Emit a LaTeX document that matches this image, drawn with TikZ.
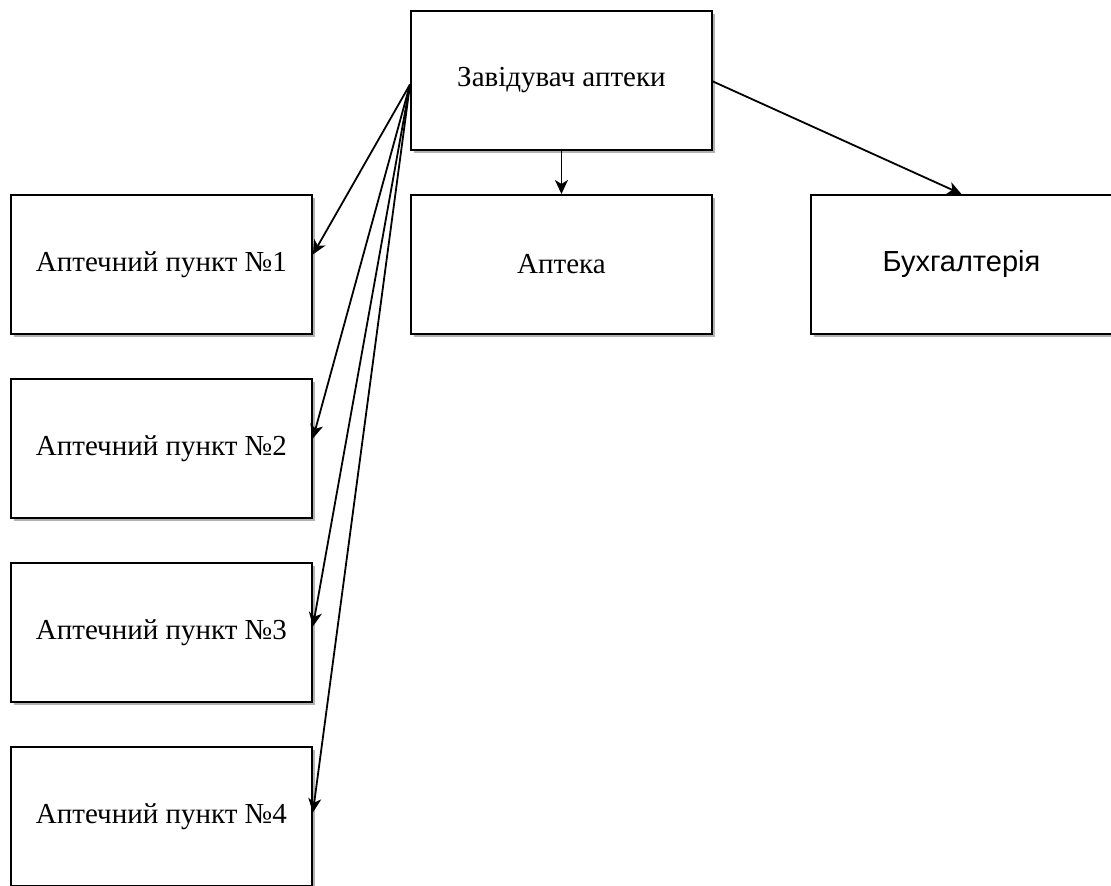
\documentclass[tikz,border=0pt]{standalone}
\usepackage{fontspec}
\setmainfont{Liberation Serif}
\newfontfamily\arialfont{Liberation Sans}
\usetikzlibrary{arrows.meta,shadows}
\begin{document}
\begin{tikzpicture}[x=1pt,y=-1pt,
  box/.style={draw=black, line width=1.9pt, fill=white, rectangle, inner sep=0pt,
    minimum width=301pt, minimum height=139pt, anchor=north west,
    general shadow={fill=black!30, shadow xshift=3pt, shadow yshift=-3pt},
    font=\fontsize{29}{34}\selectfont},
  conn/.style={line width=1.8pt, -{Stealth[length=14pt,width=13pt,inset=4pt]}}
]
\useasboundingbox (0,0) rectangle (1111,886);
\node[box] (top) at (410,10) {Завідувач аптеки};
\node[box] (apt) at (410,194) {Аптека};
\node[box, font=\arialfont\fontsize{29}{34}\selectfont] (buh) at (810,194) {Бухгалтерія};
\node[box] (p1) at (10,194) {Аптечний пункт №1};
\node[box] (p2) at (10,378) {Аптечний пункт №2};
\node[box] (p3) at (10,562) {Аптечний пункт №3};
\node[box] (p4) at (10,746) {Аптечний пункт №4};
\coordinate (src) at ([yshift=-4pt]top.west);
\draw[conn] (top.south) -- (apt.north);
\draw[conn] ([yshift=-1pt]top.east) -- (buh.north);
\draw[conn] (src) -- ([yshift=10pt]p1.east);
\draw[conn] (src) -- ([yshift=10pt]p2.east);
\draw[conn] (src) -- ([yshift=6pt]p3.east);
\draw[conn] (src) -- ([yshift=4pt]p4.east);
\end{tikzpicture}
\end{document}
